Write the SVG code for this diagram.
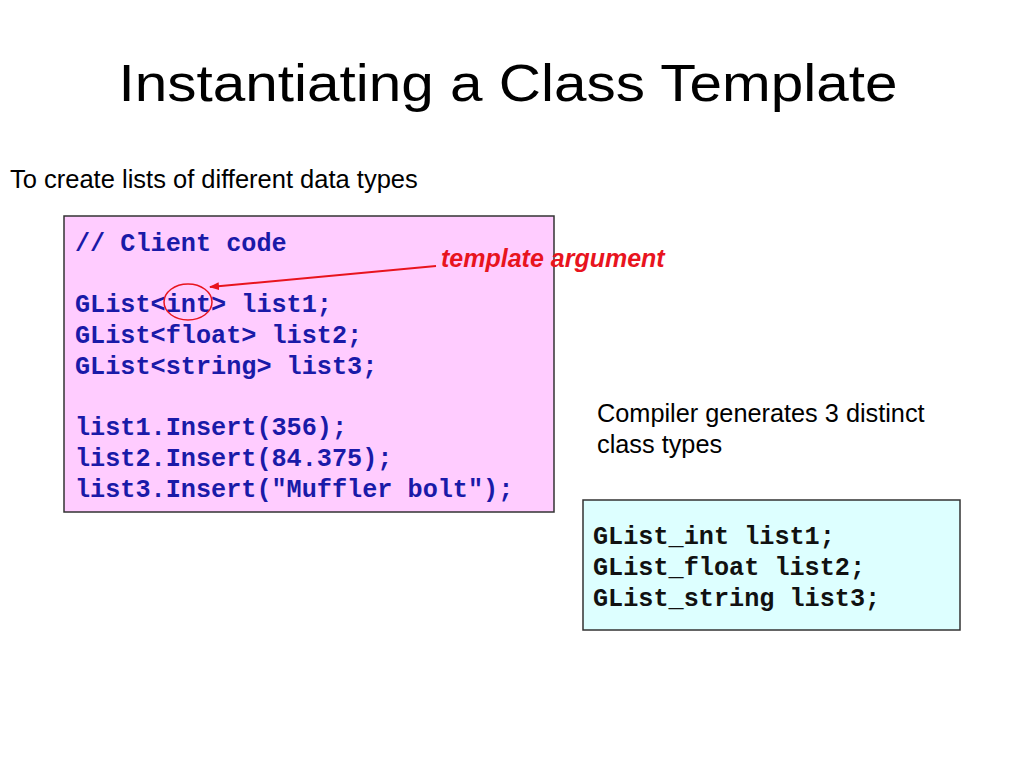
<svg xmlns="http://www.w3.org/2000/svg" width="1024" height="768" viewBox="0 0 1024 768">
<style>
.code{font-family:"Liberation Mono","DejaVu Sans Mono",monospace;font-weight:bold;font-size:25.2px;fill:#1a1aa8}
.sans{font-family:"Liberation Sans",Arial,sans-serif;fill:#000}
</style>
<defs><marker id="ah" markerWidth="10" markerHeight="8" refX="9" refY="4" orient="auto" markerUnits="userSpaceOnUse"><path d="M0,0 L10,4 L0,8 z" fill="#e8141e"/></marker></defs>
<rect width="1024" height="768" fill="#fff"/>
<text class="sans" x="508" y="101" font-size="52" text-anchor="middle" textLength="779" lengthAdjust="spacingAndGlyphs">Instantiating a Class Template</text>
<text class="sans" x="10" y="188" font-size="25.5">To create lists of different data types</text>
<g id="client">
<rect x="64" y="216" width="490" height="296" fill="#ffccff" stroke="#333" stroke-width="1.5"/>
<text class="code" x="75" y="251">// Client code</text>
<text class="code" x="75" y="312">GList&lt;int&gt; list1;</text>
<text class="code" x="75" y="343">GList&lt;float&gt; list2;</text>
<text class="code" x="75" y="374">GList&lt;string&gt; list3;</text>
<text class="code" x="75" y="435">list1.Insert(356);</text>
<text class="code" x="75" y="466">list2.Insert(84.375);</text>
<text class="code" x="75" y="497">list3.Insert("Muffler bolt");</text>
<ellipse cx="188" cy="302" rx="24" ry="18" fill="none" stroke="#e8141e" stroke-width="1.5"/>
</g>
<g id="label">
<text x="441" y="267" font-family="Liberation Sans,Arial,sans-serif" font-size="25" font-weight="bold" font-style="italic" fill="#e8141e">template argument</text>
</g>
<g id="connectors">
<line x1="436" y1="266" x2="210" y2="287" stroke="#e8141e" stroke-width="2" marker-end="url(#ah)"/>
</g>
<text class="sans" x="597" y="422" font-size="25.3">Compiler generates 3 distinct</text>
<text class="sans" x="597" y="453" font-size="25.3">class types</text>
<g id="generated">
<rect x="583" y="500" width="377" height="130" fill="#ddffff" stroke="#333" stroke-width="1.5"/>
<text class="code" x="593" y="544" style="fill:#111">GList_int list1;</text>
<text class="code" x="593" y="575" style="fill:#111">GList_float list2;</text>
<text class="code" x="593" y="606" style="fill:#111">GList_string list3;</text>
</g>
</svg>
